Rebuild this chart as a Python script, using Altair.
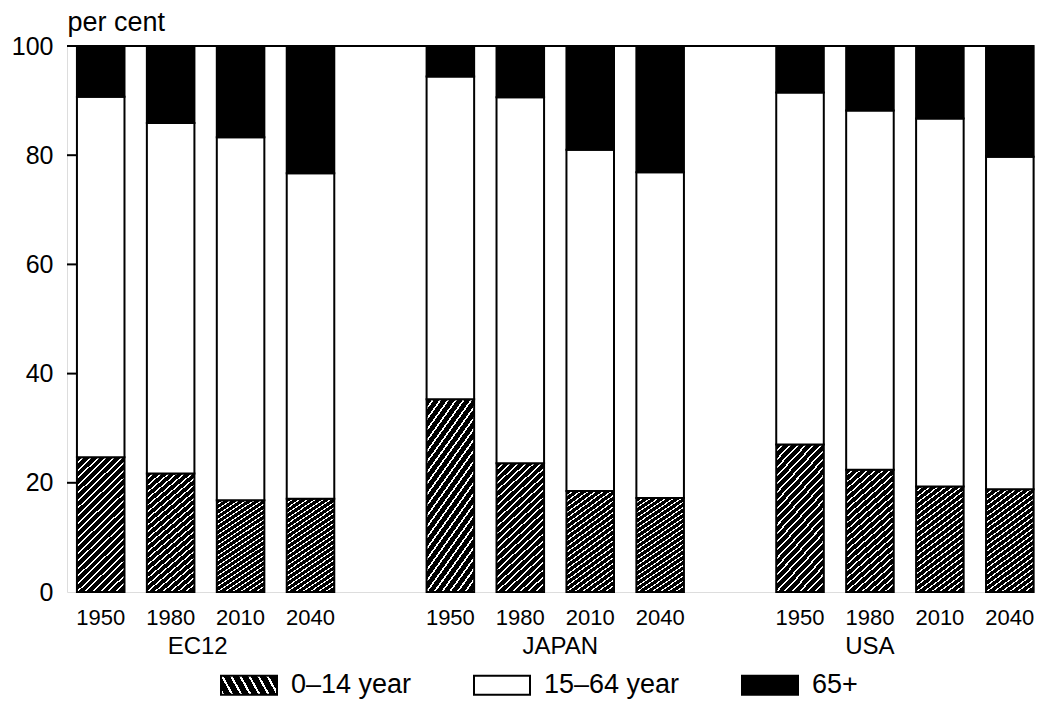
import altair as alt
import pandas as pd

groups = ["EC12", "JAPAN", "USA"]
years = ["1950", "1980", "2010", "2040"]
ages = ["0–14 year", "15–64 year", "65+"]
young = [24.7, 21.7, 16.8, 17.1, 35.3, 23.6, 18.5, 17.2, 27.0, 22.4, 19.3, 18.8]
working = [66.0, 64.2, 66.5, 59.6, 59.1, 67.0, 62.5, 59.7, 64.5, 65.8, 67.4, 60.9]
old = [9.3, 14.1, 16.7, 23.3, 5.6, 9.4, 19.0, 23.1, 8.5, 11.8, 13.3, 20.3]
y_ticks = [0, 20, 40, 60, 80, 100]
inner_ticks = [20, 40, 60, 80]
group_dx = [27, 40, 0]

# slot domain: 4 bars per group with one empty slot between groups
slots = []
for gi, g in enumerate(groups):
    for y in years:
        slots.append(f"{g} {y}")
    if gi < len(groups) - 1:
        slots.append(f"gap{gi}")

rows = []
k = 0
for g in groups:
    for y in years:
        for oi, (age, val) in enumerate(zip(ages, [young[k], working[k], old[k]])):
            rows.append({"slot": f"{g} {y}", "age": age, "value": val, "order": oi})
        k += 1
df = pd.DataFrame(rows)

# hatch imitation via striped linear gradient
N = 24
parts = []
for i in range(N):
    a = i / N
    b = (i + 0.74) / N
    c = (i + 1) / N
    parts += [
        f"{{offset:{a:.4f},color:'black'}}",
        f"{{offset:{b:.4f},color:'black'}}",
        f"{{offset:{b:.4f},color:'white'}}",
        f"{{offset:{c:.4f},color:'white'}}",
    ]
grad_expr = "{gradient:'linear',x1:0,y1:0,x2:0.414,y2:1.2,stops:[" + ",".join(parts) + "]}"

FONT = "Liberation Sans"
W, H = 967, 546

x_scale = alt.Scale(domain=slots, paddingInner=0.32, paddingOuter=0.074, align=0.96)
y_scale = alt.Scale(domain=[0, 100], nice=False)

bars = alt.Chart(df).mark_bar(stroke="black", strokeWidth=2).encode(
    x=alt.X("slot:N", scale=x_scale, sort=slots,
            axis=alt.Axis(title=None, labelAngle=0, ticks=False, domain=False,
                          labelExpr="indexof(datum.label,'gap')>=0 ? '' : slice(datum.label,-4)",
                          labelFont=FONT, labelFontSize=22, labelColor="black",
                          labelPadding=15, labelOverlap=False)),
    y=alt.Y("value:Q", stack="zero", scale=y_scale,
            axis=alt.Axis(values=y_ticks, title="per cent", titleAngle=0, titleX=0, titleY=-16,
                          titleAlign="left", titleBaseline="alphabetic", titleFont=FONT,
                          titleFontSize=27, titleFontWeight="normal", titleColor="black",
                          labelFont=FONT, labelFontSize=25, labelColor="black", labelPadding=14,
                          ticks=False, domain=False, grid=False, minExtent=59, maxExtent=59)),
    color=alt.Color("age:N",
                    scale=alt.Scale(domain=ages, range=[{"expr": grad_expr}, "white", "black"]),
                    legend=alt.Legend(title=None, orient="none", legendX=153, legendY=610,
                                      direction="horizontal", columns=3, columnPadding=58,
                                      symbolType="M-1,-0.34H1V0.34H-1Z", symbolSize=3136,
                                      symbolStrokeColor="black", symbolStrokeWidth=2,
                                      labelFont=FONT, labelFontSize=27, labelColor="black",
                                      labelOffset=13, padding=0)),
    order=alt.Order("order:Q"),
)

tick_df = pd.DataFrame({"t": inner_ticks})
ticks = alt.Chart(tick_df).mark_rule(color="black", strokeWidth=2).encode(
    y=alt.Y("t:Q", scale=y_scale),
    x=alt.value(0),
    x2=alt.value(10),
)

top_line = alt.Chart(pd.DataFrame({"t": [100]})).mark_rule(color="black", strokeWidth=2).encode(
    y=alt.Y("t:Q", scale=y_scale)
)

layers = [bars, ticks, top_line]
for g, dx in zip(groups, group_dx):
    gdf = pd.DataFrame({"slot": [f"{g} 1980"], "label": [g]})
    layers.append(
        alt.Chart(gdf).mark_text(font=FONT, fontSize=24, color="black", baseline="alphabetic",
                                 align="center", dx=dx).encode(
            x=alt.X("slot:N", scale=x_scale, sort=slots),
            y=alt.value(608),
            text="label:N",
        )
    )

chart = alt.layer(*layers).properties(
    width=W, height=H, padding={"left": 0, "top": 0, "right": 0, "bottom": 0}
).configure_view(stroke="black", strokeWidth=2).configure(font=FONT)

chart.save("out.html", embed_options={"renderer": "svg", "actions": False})
